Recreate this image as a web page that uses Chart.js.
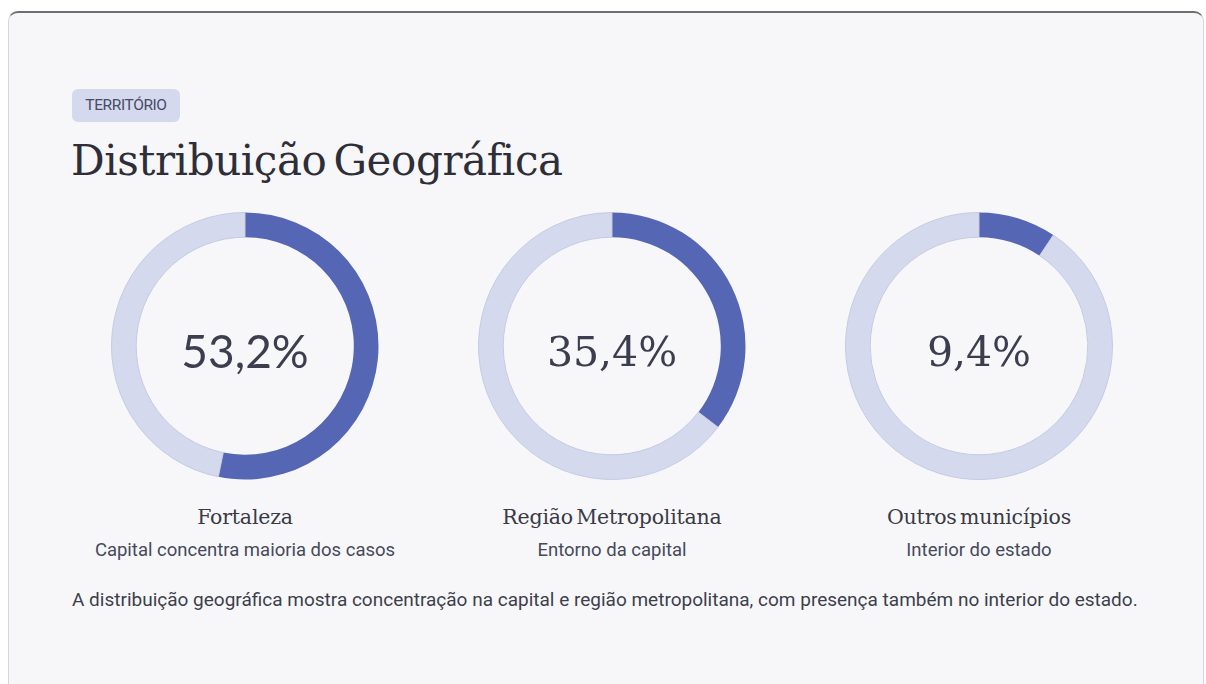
<!DOCTYPE html>
<html>
<head>
<meta charset="utf-8">
<script src="https://cdn.jsdelivr.net/npm/chart.js@4.4.1/dist/chart.umd.min.js"></script>
<style>
html,body{margin:0;padding:0;background:#ffffff;width:1206px;height:684px;overflow:hidden;}
#card{position:absolute;left:8px;top:11px;width:1196px;height:700px;background:#f7f7f9;border:1px solid #d6d6da;border-top:2px solid #6f6f72;border-radius:10px 10px 0 0;box-sizing:border-box;}
#tag{position:absolute;left:72px;top:89px;width:108px;height:33px;background:#d5d9ee;border-radius:6px;font-family:Roboto,sans-serif;font-size:15.5px;color:#464b66;line-height:33px;text-align:center;letter-spacing:-0.4px;}
#title{position:absolute;left:71px;top:136px;font-family:"DejaVu Serif",serif;font-size:42px;color:#2e2e38;letter-spacing:-0.4px;word-spacing:-6px;white-space:nowrap;line-height:50px;}
.cw{position:absolute;top:212px;width:268px;height:268px;}
.lab{position:absolute;width:367px;text-align:center;font-family:"DejaVu Serif",serif;font-size:20.5px;color:#3a3a46;top:505px;letter-spacing:-0.2px;word-spacing:-3px;}
.sub{position:absolute;width:367px;text-align:center;font-family:Roboto,sans-serif;font-size:18.5px;color:#454a5a;top:539px;}
#foot{position:absolute;left:72px;top:588px;font-family:Roboto,sans-serif;font-size:19px;color:#3c3f4c;white-space:nowrap;}
</style>
</head>
<body>
<div id="card"></div>
<div id="tag">TERRITÓRIO</div>
<div id="title">Distribuição Geográfica</div>
<div id="foot">A distribuição geográfica mostra concentração na capital e região metropolitana, com presença também no interior do estado.</div>
<script>
// Data
const categories = ["Fortaleza", "Região Metropolitana", "Outros municípios"];
const percentages = [53.2, 35.4, 9.4];
const descriptions = ["Capital concentra maioria dos casos", "Entorno da capital", "Interior do estado"];
const centerLabels = ["53,2%", "35,4%", "9,4%"];

// Styles
const centerFonts = ["400 46px Lato", "400 41px 'DejaVu Serif'", "400 41px 'DejaVu Serif'"];
const centerShift = [7, 9, 9];
const centersX = [245, 612, 979];
const dark = "#5567b4";
const light = "#d4d9ee";

categories.forEach((cat, i) => {
  const w = document.createElement("div");
  w.className = "cw";
  w.style.left = (centersX[i] - 134) + "px";
  const c = document.createElement("canvas");
  w.appendChild(c);
  document.body.appendChild(w);

  const lab = document.createElement("div");
  lab.className = "lab";
  lab.style.left = (centersX[i] - 183.5) + "px";
  lab.textContent = cat;
  document.body.appendChild(lab);

  const sub = document.createElement("div");
  sub.className = "sub";
  sub.style.left = (centersX[i] - 183.5) + "px";
  sub.textContent = descriptions[i];
  document.body.appendChild(sub);

  const centerText = {
    id: "centerText" + i,
    afterDraw(chart) {
      const meta = chart.getDatasetMeta(0).data[0];
      const ctx = chart.ctx;
      ctx.save();
      ctx.font = centerFonts[i];
      ctx.fillStyle = "#3d3d50";
      ctx.textAlign = "center";
      ctx.textBaseline = "middle";
      ctx.fillText(centerLabels[i], meta.x, meta.y + centerShift[i]);
      ctx.restore();
    }
  };

  new Chart(c, {
    type: "doughnut",
    data: {
      labels: [cat, "Demais"],
      datasets: [{
        data: [percentages[i], +(100 - percentages[i]).toFixed(1)],
        backgroundColor: [dark, light],
        borderColor: [dark, "#c4cae3"],
        borderWidth: [0, 1],
        hoverOffset: 0
      }]
    },
    options: {
      responsive: true,
      maintainAspectRatio: false,
      animation: false,
      cutout: "81.5%",
      layout: { padding: 0 },
      plugins: { legend: { display: false }, tooltip: { enabled: false } },
      events: []
    },
    plugins: [centerText]
  });
});
</script>
</body>
</html>
